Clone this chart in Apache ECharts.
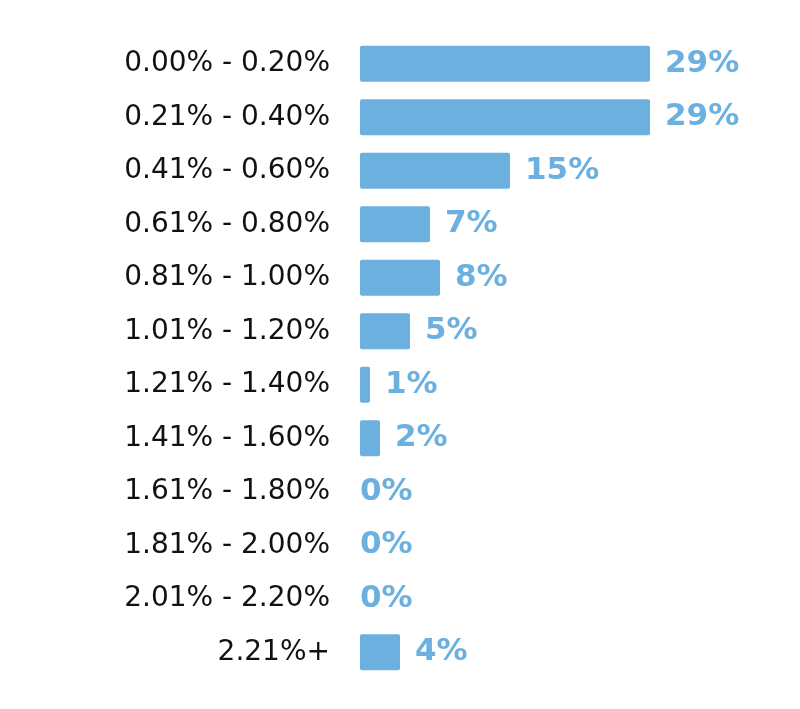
<!DOCTYPE html>
<html>
<head>
<meta charset="utf-8">
<script src="https://cdn.jsdelivr.net/npm/echarts@6/dist/echarts.min.js"></script>
<style>
  html, body { margin: 0; padding: 0; background: #fff; }
  #chart { width: 800px; height: 709px; }
</style>
</head>
<body>
<div id="chart"></div>
<script>
// Rate bands, listed top to bottom
const categories = [
  '0.00% - 0.20%', '0.21% - 0.40%', '0.41% - 0.60%', '0.61% - 0.80%',
  '0.81% - 1.00%', '1.01% - 1.20%', '1.21% - 1.40%', '1.41% - 1.60%',
  '1.61% - 1.80%', '1.81% - 2.00%', '2.01% - 2.20%', '2.21%+'
];
// Share of accounts in each band (%)
const shares = [29, 29, 15, 7, 8, 5, 1, 2, 0, 0, 0, 4];

const BLUE = '#6cb0e0';

const chart = echarts.init(document.getElementById('chart'), null, { renderer: 'canvas' });

chart.setOption({
  animation: false,
  grid: { left: 360, right: 40, top: 37, bottom: 30, containLabel: false },
  xAxis: {
    type: 'value', min: 0, max: 40,
    show: false
  },
  yAxis: {
    type: 'category',
    inverse: true,
    data: categories,
    axisLine: { show: false },
    axisTick: { show: false },
    axisLabel: {
      margin: 30,
      color: '#111',
      fontFamily: 'DejaVu Sans',
      fontSize: 28
    }
  },
  series: [{
    type: 'bar',
    barCategoryGap: '33%',
    itemStyle: { color: BLUE, borderRadius: 2 },
    data: shares.map(v => ({
      value: v,
      label: { distance: v === 0 ? 0 : 15 }
    })),
    label: {
      show: true,
      position: 'right',
      formatter: '{c}%',
      color: BLUE,
      fontFamily: 'DejaVu Sans',
      fontWeight: 'bold',
      fontSize: 31
    }
  }]
});
</script>
</body>
</html>
